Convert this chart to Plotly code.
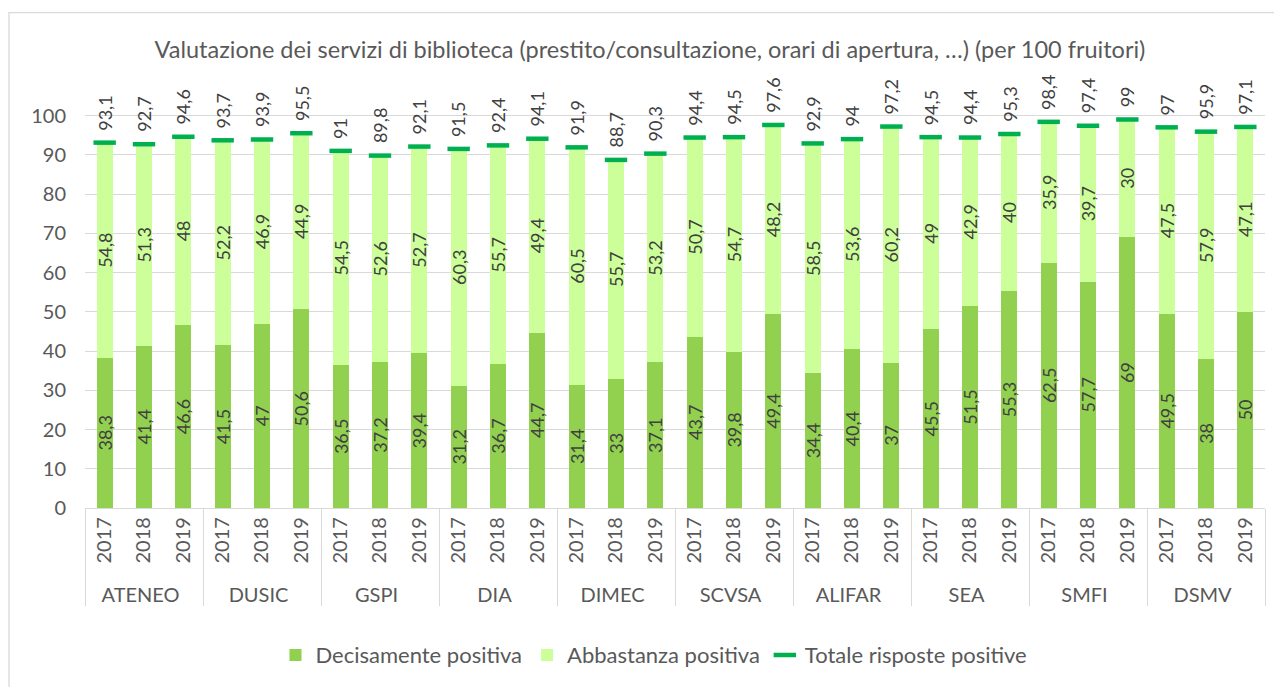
import plotly.graph_objects as go

groups = ["ATENEO", "DUSIC", "GSPI", "DIA", "DIMEC", "SCVSA", "ALIFAR", "SEA", "SMFI", "DSMV"]
years = ["2017", "2018", "2019"]

decisamente = [38.3, 41.4, 46.6, 41.5, 47, 50.6, 36.5, 37.2, 39.4, 31.2, 36.7, 44.7,
               31.4, 33, 37.1, 43.7, 39.8, 49.4, 34.4, 40.4, 37, 45.5, 51.5, 55.3,
               62.5, 57.7, 69, 49.5, 38, 50]
abbastanza = [54.8, 51.3, 48, 52.2, 46.9, 44.9, 54.5, 52.6, 52.7, 60.3, 55.7, 49.4,
              60.5, 55.7, 53.2, 50.7, 54.7, 48.2, 58.5, 53.6, 60.2, 49, 42.9, 40,
              35.9, 39.7, 30, 47.5, 57.9, 47.1]
totale = [93.1, 92.7, 94.6, 93.7, 93.9, 95.5, 91, 89.8, 92.1, 91.5, 92.4, 94.1,
          91.9, 88.7, 90.3, 94.4, 94.5, 97.6, 92.9, 94, 97.2, 94.5, 94.4, 95.3,
          98.4, 97.4, 99, 97, 95.9, 97.1]
y_ticks = [0, 10, 20, 30, 40, 50, 60, 70, 80, 90, 100]

x_outer = [g for g in groups for _ in years]
x_inner = [y for _ in groups for y in years]
x = [x_outer, x_inner]


def fmt(v):
    s = ("%g" % v)
    return s.replace(".", ",")


FONT = "Lato"
GRAY = "#595959"
LABEL = "#404040"
LABEL_SHIFT_PX = 10  # gap in px between total dash and its rotated label

W, H = 1274, 679
L = 77
PW = 1180
Y_MAX = 119                 # axis range top (headroom for total labels)
PX_PER_UNIT = 393 / 100     # 0..100 spans 393 px
BOTTOM = 501                # pixel of y=0 in figure coordinates
PH = PX_PER_UNIT * Y_MAX
T = BOTTOM - PH

fig = go.Figure()
fig.add_trace(go.Bar(
    x=x, y=decisamente, name="Decisamente positiva",
    marker=dict(color="#92D050", line=dict(width=0)),
    text=[fmt(v) for v in decisamente], textposition="inside", textangle=-90,
    insidetextanchor="middle", textfont=dict(color=LABEL, size=18, family=FONT),
    hoverinfo="y+name",
))
fig.add_trace(go.Bar(
    x=x, y=abbastanza, name="Abbastanza positiva",
    marker=dict(color="#CCFF99", line=dict(width=0)),
    text=[fmt(v) for v in abbastanza], textposition="inside", textangle=-90,
    insidetextanchor="middle", textfont=dict(color=LABEL, size=18, family=FONT),
    hoverinfo="y+name",
))
fig.add_trace(go.Scatter(
    x=x, y=totale, name="Totale risposte positive", mode="markers",
    marker=dict(symbol="line-ew", size=16, line=dict(color="#00B050", width=4.5)),
))

# rotated total labels above the dashes (x = category index on the multicategory axis)
for i, v in enumerate(totale):
    fig.add_annotation(
        x=i, y=v, xref="x", yref="y", text=fmt(v), showarrow=False,
        textangle=-90, xanchor="center", yanchor="bottom", yshift=LABEL_SHIFT_PX,
        font=dict(color=LABEL, size=18, family=FONT),
    )

fig.update_layout(
    width=W, height=H,
    barmode="stack", bargap=0.6,
    paper_bgcolor="white", plot_bgcolor="white",
    font=dict(family=FONT, color=GRAY, size=19),
    title=dict(text="Valutazione dei servizi di biblioteca (prestito/consultazione, orari di apertura, …) (per 100 fruitori)",
               x=(650 - 8) / W, xanchor="center", y=1 - 42 / H, yanchor="middle",
               font=dict(size=23.5, color=GRAY, family=FONT)),
    margin=dict(l=L, r=W - L - PW, t=T, b=H - BOTTOM),
    uniformtext=dict(minsize=18, mode="show"),
    legend=dict(orientation="h", x=(654 - 8 - L) / PW, xanchor="center",
                y=(BOTTOM - 647) / PH, yanchor="middle",
                font=dict(size=22, color=GRAY, family=FONT), traceorder="normal",
                itemwidth=30),
    showlegend=True,
)
fig.update_traces(cliponaxis=False, constraintext="none", selector=dict(type="bar"))

fig.update_yaxes(range=[0, Y_MAX], tickvals=y_ticks, showgrid=True, gridcolor="#D9D9D9",
                 gridwidth=1.3, zeroline=False, showline=False, ticks="",
                 tickfont=dict(size=20, color=GRAY, family=FONT), ticklabelstandoff=18)
fig.update_xaxes(type="multicategory", range=[-0.5, len(totale) - 0.5], tickangle=-90,
                 showline=True, linecolor="#D9D9D9",
                 linewidth=1.3, showdividers=True, dividercolor="#D9D9D9", dividerwidth=1.3,
                 ticks="", tickfont=dict(size=20, color=GRAY, family=FONT))

# chart-area border (Excel style)
fig.add_shape(type="rect", xref="paper", yref="paper",
              x0=(1 - L) / PW, x1=(1269 - L) / PW,
              y0=(BOTTOM - 720) / PH, y1=(BOTTOM - 5) / PH,
              line=dict(color="#D9D9D9", width=1.3), fillcolor="rgba(0,0,0,0)", layer="below")

fig.write_html("out.html")
